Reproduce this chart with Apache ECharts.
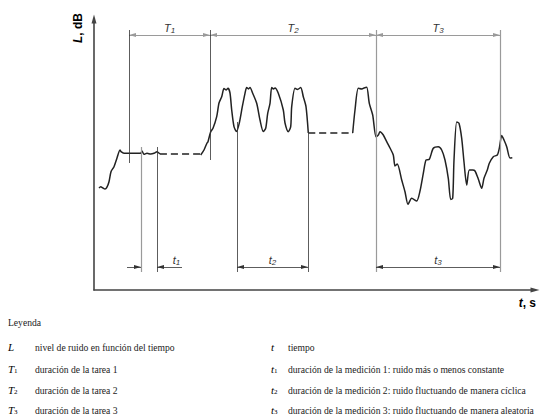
<!DOCTYPE html>
<html>
<head>
<meta charset="utf-8">
<script src="https://cdn.jsdelivr.net/npm/echarts@6/dist/echarts.min.js"></script>
<style>
  html, body { margin: 0; padding: 0; background: #fff; }
  #chart { width: 543px; height: 419px; }
</style>
</head>
<body>
<div id="chart"></div>
<script>
  // time (x) and noise level (y) in arbitrary units
  const noiseTask1 = [[5,102],[6.7,103.3],[9,102],[11,101],[12.7,102.3],[15,108.3],[17,118.3],[20,123.3],[23,132],[26,140],[27,138.3],[30,136.7],[46.7,136.7],[48,139],[50,135.7],[53,136.7],[56.7,136],[60,136.7],[63,138.3],[66,136]];
  const constantGap = [[66,136],[106.7,136]];
  const noiseTask2 = [[106.7,135],[110,140],[113,147],[114,148.3],[116.7,158.3],[119,161.7],[122.7,173.3],[125,187],[127.7,193.3],[130,201.5],[132,200],[134,201.7],[136,197],[137.7,180],[140,163.3],[142.5,158.5],[145.3,167],[148.3,183.3],[151,196.7],[152.7,202.5],[154.5,201],[156,202.5],[158.7,196.7],[162.7,186.7],[166,170],[169.3,158.5],[171.7,161.7],[173.7,176.7],[176,186.7],[177.7,202.5],[179.5,201],[181,202],[184.3,196.7],[189.3,180],[191,167],[194.3,158.3],[196.7,163.3],[197.7,183.3],[201,201.7],[203.5,200.5],[206.7,202.5],[209.3,193.3],[212,183.3],[214.3,157]];
  const cyclicGap = [[214.3,157],[258.7,157]];
  const noiseTask3 = [[258.7,157],[261,180],[264.3,201.7],[268,201],[270,202],[272.7,202.7],[275.3,186.7],[278.7,175],[282,153.3],[284.3,155],[286,158.3],[289.3,155],[292.7,148.3],[296,142],[299.3,135],[301,124],[303.3,126],[307.7,110],[311,98.3],[314,85.7],[317.7,91.7],[322.7,89],[326,99],[329.3,116.7],[332,130],[335.3,130.7],[339.3,141.7],[344.3,143.3],[347.7,140],[351,130],[354.3,111.7],[356.7,90.5],[358.7,91.7],[360,130],[362.7,168],[365,166.7],[367.7,151.7],[370,128],[372.7,105],[375.3,120],[378.7,120],[381,119],[384.3,111],[387.7,101.7],[390,111.7],[393.3,120],[395.3,126.7],[399.3,133.3],[403.3,135],[405.3,141.7],[407.7,154.5],[410,150],[412.7,143.3],[416,132],[418.3,132.3]];

  // task durations T1..T3 and measurement durations t1..t3
  const taskEdges = [35, 116, 282, 406];
  const taskEdgeBottoms = [127, 130, 18, 18];
  const taskLevel = 255;
  const guideTop = 260;
  const measureWindows = [[47, 63], [143, 214], [282, 406]];
  const measureTops = [[143, 143], [168, 158]];
  const measureLevel = 23;
  const guideBottom = 18;
  const t1Tails = [33, 88];
  const subscripts = ["1", "2", "3"];

  // legend texts
  const legendLeftSym = [["L", ""], ["T", "1"], ["T", "2"], ["T", "3"]];
  const legendLeftText = [
    "nivel de ruido en función del tiempo",
    "duración de la tarea 1",
    "duración de la tarea 2",
    "duración de la tarea 3",
  ];
  const legendRightSym = [["t", ""], ["t", "1"], ["t", "2"], ["t", "3"]];
  const legendRightText = [
    "tiempo",
    "duración de la medición 1: ruido más o menos constante",
    "duración de la medición 2: ruido fluctuando de manera cíclica",
    "duración de la medición 3: ruido fluctuando de manera aleatoria",
  ];

  const chart = echarts.init(document.getElementById("chart"), null, { renderer: "svg" });

  const ARROW = { symbol: "triangle", symbolSize: [4, 7], symbolOffset: [0, "50%"] };
  const darkLine = { color: "#333", width: 0.8, type: "solid" };
  const greyLine = { color: "#9a9a9a", width: 1.2, type: "solid" };

  const labelRich = {
    i: { fontFamily: "Liberation Sans", fontStyle: "italic", fontSize: 11, color: "#333", lineHeight: 13 },
    s: { fontFamily: "Liberation Sans", fontStyle: "italic", fontSize: 8, color: "#333", lineHeight: 8, verticalAlign: "bottom" },
  };
  function segLabel(letter, sub, pad) {
    return {
      show: true,
      position: "insideMiddleTop",
      distance: 1,
      padding: [0, 0, 0, pad || 0],
      formatter: () => "{i|" + letter + "}{s|" + sub + "}",
      rich: labelRich,
    };
  }

  function seg(from, to, opt) {
    opt = opt || {};
    const a = Object.assign({ coord: from, symbol: "none" }, opt.fromArrow ? ARROW : {}, {
      lineStyle: opt.lineStyle || darkLine,
      label: opt.label || { show: false },
    });
    const b = Object.assign({ coord: to, symbol: "none" }, opt.toArrow ? ARROW : {});
    return [a, b];
  }

  const guides = [];
  // T brackets
  for (let i = 0; i < 3; i++) {
    guides.push(seg([taskEdges[i], taskLevel], [taskEdges[i + 1], taskLevel], {
      fromArrow: true, toArrow: true, lineStyle: greyLine,
      label: segLabel("T", subscripts[i]),
    }));
  }
  // task edge verticals
  taskEdges.forEach((x, i) => {
    guides.push(seg([x, guideTop], [x, taskEdgeBottoms[i]], { lineStyle: i >= 2 ? greyLine : darkLine }));
  });
  // measurement verticals t1, t2
  measureTops.forEach((tops, i) => {
    measureWindows[i].forEach((x, j) => {
      guides.push(seg([x, tops[j]], [x, guideBottom], { lineStyle: i === 0 && j === 0 ? greyLine : darkLine }));
    });
  });
  // t1 arrows (outside)
  guides.push(seg([t1Tails[0], measureLevel], [measureWindows[0][0], measureLevel], { toArrow: true }));
  guides.push(seg([measureWindows[0][1], measureLevel], [t1Tails[1], measureLevel], {
    fromArrow: true, label: segLabel("t", "1", 14),
  }));
  // t2, t3 arrows
  for (let i = 1; i < 3; i++) {
    guides.push(seg([measureWindows[i][0], measureLevel], [measureWindows[i][1], measureLevel], {
      fromArrow: true, toArrow: true, label: segLabel("t", subscripts[i]),
    }));
  }

  const curveStyle = { color: "#222", width: 1.5 };
  const dashStyle = { color: "#222", width: 1.3, type: [7, 4] };
  function noiseSeries(data, style) {
    return {
      type: "line",
      data: data,
      showSymbol: false,
      smooth: 0.25,
      lineStyle: style,
      silent: true,
      z: 3,
    };
  }

  const serif = "Liberation Serif";
  const legendSize = 9.6;
  const legendRich = {
    i: { fontFamily: serif, fontStyle: "italic", fontSize: 11, color: "#222" },
    s: { fontFamily: serif, fontSize: 7, color: "#222", verticalAlign: "bottom", lineHeight: 8 },
  };
  const rowY = [347, 369, 390, 410];
  const graphics = [
    {
      type: "text", x: 78, y: 28, rotation: Math.PI / 2,
      style: {
        text: "{i|L}{n|, dB}", align: "center", verticalAlign: "middle",
        rich: {
          i: { fontFamily: "Liberation Sans", fontWeight: "bold", fontStyle: "italic", fontSize: 12, color: "#222" },
          n: { fontFamily: "Liberation Sans", fontWeight: "bold", fontSize: 12, color: "#222" },
        },
      },
    },
    {
      type: "text", x: 536, y: 303,
      style: {
        text: "{i|t}{n|, s}", align: "right", verticalAlign: "middle",
        rich: {
          i: { fontFamily: "Liberation Sans", fontWeight: "bold", fontStyle: "italic", fontSize: 12, color: "#222" },
          n: { fontFamily: "Liberation Sans", fontWeight: "bold", fontSize: 12, color: "#222" },
        },
      },
    },
    {
      type: "text", x: 8, y: 322,
      style: { text: "Leyenda", fontFamily: serif, fontSize: legendSize, fill: "#222", verticalAlign: "middle" },
    },
  ];
  rowY.forEach((y, i) => {
    graphics.push({
      type: "text", x: 8, y: y,
      style: { text: "{i|" + legendLeftSym[i][0] + "}{s|" + legendLeftSym[i][1] + "}", rich: legendRich, verticalAlign: "middle" },
    });
    graphics.push({
      type: "text", x: 35, y: y,
      style: { text: legendLeftText[i], fontFamily: serif, fontSize: legendSize, fill: "#222", verticalAlign: "middle" },
    });
    graphics.push({
      type: "text", x: 271, y: y,
      style: { text: "{i|" + legendRightSym[i][0] + "}{s|" + legendRightSym[i][1] + "}", rich: legendRich, verticalAlign: "middle" },
    });
    graphics.push({
      type: "text", x: 288, y: y,
      style: { text: legendRightText[i], fontFamily: serif, fontSize: legendSize, fill: "#222", verticalAlign: "middle" },
    });
  });

  const axisCommon = {
    type: "value",
    min: 0,
    axisLine: {
      show: true,
      symbol: ["none", "triangle"],
      symbolSize: [5, 9],
      lineStyle: { color: "#444", width: 1.6 },
    },
    axisTick: { show: false },
    axisLabel: { show: false },
    splitLine: { show: false },
  };

  chart.setOption({
    animation: false,
    backgroundColor: "#fff",
    grid: { left: 94, right: 8, top: 19, bottom: 129 },
    xAxis: Object.assign({}, axisCommon, { max: 441 }),
    yAxis: Object.assign({}, axisCommon, { max: 271 }),
    graphic: graphics,
    series: [
      {
        type: "line",
        data: [],
        silent: true,
        markLine: {
          silent: true,
          animation: false,
          symbol: ["none", "none"],
          label: { show: false },
          emphasis: { disabled: true },
          data: guides,
        },
      },
      noiseSeries(noiseTask1, curveStyle),
      noiseSeries(constantGap, dashStyle),
      noiseSeries(noiseTask2, curveStyle),
      noiseSeries(cyclicGap, dashStyle),
      noiseSeries(noiseTask3, curveStyle),
    ],
  });
</script>
</body>
</html>
